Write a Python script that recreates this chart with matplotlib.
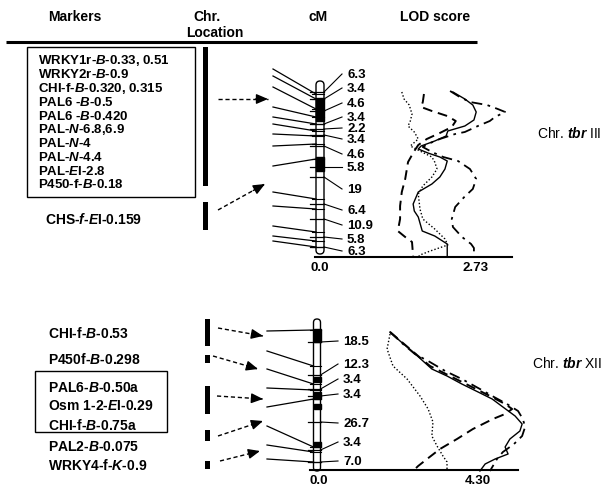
import numpy as np
import matplotlib
matplotlib.use("Agg")
import matplotlib.pyplot as plt
from matplotlib.patches import FancyBboxPatch, Rectangle

plt.rcParams['font.family'] = ['Liberation Sans', 'DejaVu Sans']
plt.rcParams['mathtext.fontset'] = 'custom'
plt.rcParams['mathtext.it'] = 'Liberation Sans:italic:bold'
plt.rcParams['mathtext.rm'] = 'Liberation Sans:bold'
plt.rcParams['mathtext.bf'] = 'Liberation Sans:bold'

# ---- marker names ----
iii_box_markers = [r"WRKY1r-$\mathit{B}$-0.33, 0.51", r"WRKY2r-$\mathit{B}$-0.9",
                   r"CHI-f-$\mathit{B}$-0.320, 0.315", r"PAL6 -$\mathit{B}$-0.5",
                   r"PAL6 -$\mathit{B}$-0.420", r"PAL-$\mathit{N}$-6.8,6.9",
                   r"PAL-$\mathit{N}$-4", r"PAL-$\mathit{N}$-4.4",
                   r"PAL-$\mathit{E}$I-2.8", r"P450-f-$\mathit{B}$-0.18"]
iii_extra_marker = r"CHS-$\mathit{f}$-$\mathit{E}$I-0.159"
xii_markers = [r"CHI-f-$\mathit{B}$-0.53", r"P450f-$\mathit{B}$-0.298"]
xii_box_markers = [r"PAL6-$\mathit{B}$-0.50a", r"Osm 1-2-$\mathit{E}$I-0.29",
                   r"CHI-f-$\mathit{B}$-0.75a"]
xii_markers_low = [r"PAL2-$\mathit{B}$-0.075", r"WRKY4-f-$\mathit{K}$-0.9"]

# ---- chromosome III map ----
iii_cm = ["6.3", "3.4", "4.6", "3.4", "2.2", "3.4", "4.6", "5.8", "19", "6.4", "10.9", "5.8", "6.3"]
iii_label_pos = [75, 89, 104, 118, 129, 140, 155, 168, 190, 211, 226, 240, 252]
iii_loci = [93, 100, 112, 125, 130, 136, 147, 168, 178, 205, 220, 238, 248]
iii_bands = [(99, 122), (158, 172)]
iii_left = [(70, 95), (77, 100), (88, 110), (108, 118), (118, 125), (125, 132), (135, 137),
            (147, 145), (167, 160), (193, 200), (207, 210), (227, 233), (237, 242), (242, 248)]
iii_loc_bars = [(48, 187), (203, 231)]

# ---- chromosome XII map ----
xii_cm = ["18.5", "12.3", "3.4", "3.4", "26.7", "3.4", "7.0"]
xii_label_pos = [342, 365, 380, 395, 424, 443, 462]
xii_loci = [343, 376, 390, 397, 423, 451, 463]
xii_bands = [(330, 343), (378, 383), (393, 400), (405, 410), (443, 448)]
xii_left = [(332, 331), (352, 367), (370, 385), (389, 391), (408, 400), (427, 448), (446, 453), (460, 463)]
xii_loc_bars = [(320, 347), (356, 364), (387, 415), (431, 442), (462, 470)]

# ---- LOD profiles (map position, LOD) ----
iii_solid_pos = [93, 100, 106, 113, 121, 127, 132, 137, 142, 147, 150, 154, 158, 162, 170, 178, 185, 193, 205, 212, 218, 232, 237, 245, 258]
iii_solid_lod = [2.34, 2.55, 2.69, 2.75, 2.71, 2.55, 2.25, 2.22, 2.02, 1.78, 1.73, 1.90, 2.11, 2.24, 2.20, 2.11, 1.97, 1.73, 1.64, 1.66, 1.73, 1.80, 2.02, 2.24, 2.24]
iii_dashdot_pos = [92, 98, 103, 106, 110, 113, 118, 122, 127, 133, 135, 140, 145, 148, 153, 158, 162, 170, 180, 190, 198, 208, 220, 228, 238, 245, 249, 258]
iii_dashdot_lod = [2.29, 2.46, 2.64, 2.94, 3.13, 3.26, 3.08, 2.99, 2.78, 2.55, 2.38, 2.11, 1.90, 1.81, 1.97, 2.17, 2.43, 2.64, 2.75, 2.69, 2.54, 2.38, 2.32, 2.34, 2.50, 2.66, 2.71, 2.71]
iii_dashed_pos = [95, 103, 108, 112, 117, 122, 128, 134, 140, 146, 152, 163, 180, 193, 207, 220, 232, 238, 243, 258]
iii_dashed_lod = [1.83, 1.81, 1.78, 1.97, 2.24, 2.39, 2.32, 2.11, 1.88, 1.73, 1.66, 1.55, 1.50, 1.44, 1.41, 1.41, 1.37, 1.50, 1.62, 1.64]
iii_dotted_pos = [93, 100, 106, 115, 122, 127, 133, 140, 147, 152, 158, 163, 170, 178, 187, 195, 210, 220, 230, 240, 246, 252, 256, 258]
iii_dotted_lod = [1.44, 1.48, 1.57, 1.62, 1.59, 1.55, 1.66, 1.73, 1.59, 1.76, 1.97, 2.02, 2.06, 1.97, 1.81, 1.73, 1.76, 1.81, 2.02, 2.20, 2.25, 1.94, 1.76, 1.73]

xii_solid_pos = [333, 342, 352, 362, 370, 377, 385, 393, 400, 408, 417, 425, 432, 440, 448, 455, 460, 465, 469, 472]
xii_solid_lod = [1.92, 2.19, 2.51, 2.81, 3.05, 3.46, 3.86, 4.30, 4.68, 4.97, 5.30, 5.49, 5.43, 5.16, 5.03, 5.11, 4.76, 4.49, 4.41, 4.35]
xii_dashdot_pos = [333, 345, 355, 362, 372, 380, 390, 398, 405, 412, 420, 428, 437, 445, 453, 460, 467, 472]
xii_dashdot_lod = [1.92, 2.27, 2.59, 2.95, 3.41, 3.86, 4.35, 4.73, 5.08, 5.38, 5.51, 5.57, 5.49, 5.27, 4.97, 4.81, 4.70, 4.62]
xii_dashed_pos = [333, 345, 357, 367, 377, 387, 397, 405, 410, 415, 420, 430, 440, 450, 460, 467, 472]
xii_dashed_lod = [1.92, 2.30, 2.68, 3.00, 3.54, 4.08, 4.62, 5.03, 5.22, 5.03, 4.70, 4.16, 3.73, 3.27, 2.92, 2.68, 2.54]
xii_dotted_pos = [335, 350, 367, 380, 397, 410, 423, 437, 447, 457, 463, 472]
xii_dotted_lod = [1.92, 1.84, 2.00, 2.38, 2.73, 2.95, 3.08, 3.05, 3.19, 3.35, 3.46, 3.46]

iii_lod_ticks = [0.0, 2.73]
xii_lod_ticks = [0.0, 4.30]

W, H = 616, 489
fig = plt.figure(figsize=(W / 100, H / 100), dpi=100)
ax = fig.add_axes([0, 0, 1, 1])
ax.set_xlim(0, W)
ax.set_ylim(H, 0)
ax.axis('off')

LBL = dict(fontsize=10, fontweight='bold', va='center')

# header
ax.text(75, 17, "Markers", ha='center', **LBL)
ax.text(207, 17, "Chr.", ha='center', **LBL)
ax.text(215, 33, "Location", ha='center', **LBL)
ax.text(318, 17, "cM", ha='center', **LBL)
ax.text(435, 17, "LOD score", ha='center', **LBL)
ax.plot([6, 477], [43, 43], color='k', lw=2.2, solid_capstyle='butt')

# marker name blocks
ax.add_patch(Rectangle((27, 48), 168, 150, fill=False, ec='k', lw=1))
for name, y in zip(iii_box_markers, np.linspace(61, 185, len(iii_box_markers))):
    ax.text(38, y, name, ha='left', fontsize=9.5, fontweight='bold', va='center')
ax.text(45, 220, iii_extra_marker, ha='left', **LBL)

for name, y in zip(xii_markers, [333, 360]):
    ax.text(48, y, name, ha='left', **LBL)
ax.add_patch(Rectangle((35, 372), 132, 61, fill=False, ec='k', lw=1))
for name, y in zip(xii_box_markers, [388, 406, 425]):
    ax.text(48, y, name, ha='left', **LBL)
for name, y in zip(xii_markers_low, [447, 466]):
    ax.text(48, y, name, ha='left', **LBL)


def loc_bars(x, bars):
    for y0, y1 in bars:
        ax.add_patch(Rectangle((x, y0), 5, y1 - y0, color='k', lw=0))


def dashed_arrow(p0, p1):
    p0, p1 = np.array(p0, float), np.array(p1, float)
    ax.plot([p0[0], p1[0]], [p0[1], p1[1]], color='k', lw=1, ls=(0, (3, 2)))
    ax.annotate('', xy=p1, xytext=p1 - 0.25 * (p1 - p0),
                arrowprops=dict(arrowstyle='-|>,head_length=0.7,head_width=0.3',
                                color='k', lw=1, shrinkA=0, shrinkB=0))


loc_bars(203, iii_loc_bars)
loc_bars(205, xii_loc_bars)
for p0, p1 in [((218, 100), (268, 100)), ((218, 211), (265, 185))]:
    dashed_arrow(p0, p1)
for p0, p1 in [((218, 329), (263, 337)), ((213, 357), (258, 370)), ((217, 397), (263, 400)),
               ((218, 437), (263, 422)), ((220, 462), (260, 452))]:
    dashed_arrow(p0, p1)


def chromosome(cx, w, top, bottom, bands, loci, labels, label_pos, left, x_left, x_label):
    ax.add_patch(FancyBboxPatch((cx - w / 2, top), w, bottom - top,
                                boxstyle=f"round,pad=0,rounding_size={w / 2}",
                                fc='white', ec='k', lw=1, zorder=2))
    for b0, b1 in bands:
        ax.add_patch(Rectangle((cx - w / 2, b0), w, b1 - b0, color='k', zorder=3))
    for y0, y1 in left:
        ax.plot([x_left, cx - w / 2], [y0, y1], color='k', lw=0.9)
        ax.plot([cx - w / 2 - 4, cx + w / 2], [y1, y1], color='k', lw=0.8, zorder=4)
    for yl, yt, txt in zip(loci, label_pos, labels):
        ax.plot([cx - w / 2 - 6, cx + w / 2], [yl, yl], color='k', lw=0.9, zorder=4)
        ax.plot([cx + w / 2, x_label - 5], [yl, yt], color='k', lw=0.8)
        ax.text(x_label, yt, txt, ha='left', fontsize=9.5, fontweight='bold', va='center')


chromosome(320, 8, 82, 255, iii_bands, iii_loci, iii_cm, iii_label_pos, iii_left, 273, 347)
chromosome(317, 7, 320, 472, xii_bands, xii_loci, xii_cm, xii_label_pos, xii_left, 267, 343)

ax.text(537, 134, r"Chr. $\mathit{tbr}$ III", ha='left', va='center', fontsize=10)
ax.text(532, 363, r"Chr. $\mathit{tbr}$ XII", ha='left', va='center', fontsize=10)


def lod_panel(px_zero, px_unit, base_y, base_px, ticks, curves):
    lax = fig.add_axes([0, 0, 1, 1])
    lax.set_ylim(H, 0)
    lax.set_xlim(-px_zero / px_unit, (W - px_zero) / px_unit)
    lax.axis('off')
    lax.patch.set_alpha(0)
    x0, x1 = [(p - px_zero) / px_unit for p in base_px]
    lax.plot([x0, x1], [base_y, base_y], color='k', lw=1.5)
    for t in ticks:
        lax.text(t, base_y + 10, f"{t:.2f}" if t else "0.0", ha='center', va='center',
                 fontsize=9.5, fontweight='bold')
    styles = [dict(ls='-', lw=1.0), dict(ls=(0, (5, 3)), lw=1.4),
              dict(ls=(0, (6, 3, 1.5, 3)), lw=1.3), dict(ls=(0, (1, 1.5)), lw=1.0)]
    for (pos, lod), st in zip(curves, styles):
        lax.plot(lod, pos, color='k', **st)


lod_panel(320, 56.8, 258, (315, 512), iii_lod_ticks,
          [(iii_solid_pos, iii_solid_lod), (iii_dashed_pos, iii_dashed_lod),
           (iii_dashdot_pos, iii_dashdot_lod), (iii_dotted_pos, iii_dotted_lod)])
lod_panel(319, 37.0, 471, (310, 518), xii_lod_ticks,
          [(xii_solid_pos, xii_solid_lod), (xii_dashed_pos, xii_dashed_lod),
           (xii_dashdot_pos, xii_dashdot_lod), (xii_dotted_pos, xii_dotted_lod)])

fig.savefig("out.png", dpi=100)
